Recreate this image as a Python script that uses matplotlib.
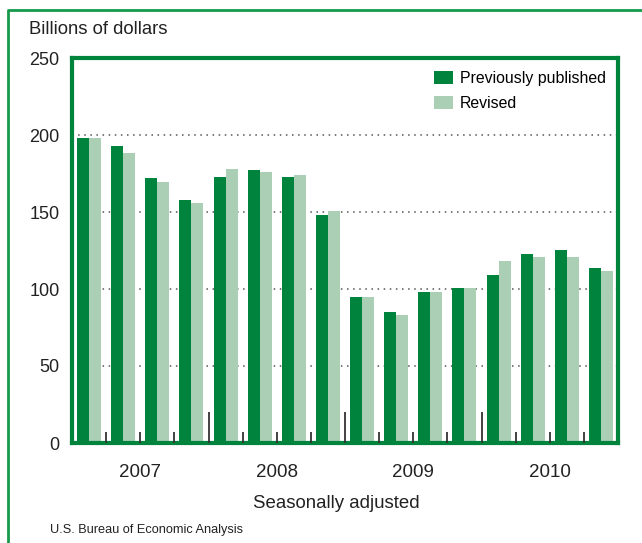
import numpy as np
import matplotlib
matplotlib.use('Agg')
import matplotlib.pyplot as plt
from matplotlib.patches import Patch
from matplotlib.lines import Line2D
from matplotlib import font_manager

plt.rcParams['font.family'] = ['Liberation Sans', 'DejaVu Sans']

# quarterly values, 2007Q1 .. 2010Q4
years = ['2007', '2008', '2009', '2010']
previously_published = [198, 193, 172, 158, 173, 177, 173, 148,
                        95, 85, 98, 100.5, 109, 122.5, 125.5, 113.5]
revised = [198, 188.5, 169.5, 156, 178, 176, 174, 150.5,
           95, 83, 98, 100.5, 118.5, 120.5, 120.5, 112]
yticks = [0, 50, 100, 150, 200, 250]

DARK = '#00843d'
LIGHT = '#abcfb4'
FRAME = '#16994a'
TXT = '#222222'

# condensed face for legend and source line, if it is there
names = {f.name for f in font_manager.fontManager.ttflist}
narrow = 'Liberation Sans Narrow' in names
NARROW = ['Liberation Sans Narrow', 'Liberation Sans'] if narrow else ['Liberation Sans']
leg_size = 13.5 if narrow else 11.4
src_size = 11 if narrow else 9.2

fig = plt.figure(figsize=(6.42, 5.43), dpi=100)
ax = fig.add_axes([72 / 642, 1 - 443 / 543, 546 / 642, 385 / 543])
px = 250 / 385  # data units per pixel on y

n = len(previously_published)
x = np.arange(n)
w = 0.35
ax.bar(x - w / 2, previously_published, w, color=DARK, zorder=3)
ax.bar(x + w / 2, revised, w, color=LIGHT, zorder=3)

ax.set_xlim(-0.5, n - 0.5)
ax.set_ylim(0, 250)
ax.set_yticks(yticks)
ax.set_yticklabels([str(t) for t in yticks], fontsize=13, color=TXT)
ax.tick_params(axis='y', length=0, pad=9)

for t in yticks[1:-1]:
    ax.axhline(t, color='#555555', lw=1.1, ls=(0, (1, 3)), zorder=1)

# quarter separators drawn up from the baseline
for i in range(1, n):
    h = 31 if i % 4 == 0 else 11
    ax.plot([i - 0.5, i - 0.5], [0, h * px], color='#333333', lw=1.3, zorder=6,
            solid_capstyle='butt', clip_on=False)

ax.set_xticks([1.5, 5.5, 9.5, 13.5])
ax.set_xticklabels(years, fontsize=13.5, color=TXT)
ax.tick_params(axis='x', length=0, pad=15)

for s in ax.spines.values():
    s.set_color(DARK)
    s.set_linewidth(3)
    s.set_zorder(5)

handles = [Patch(facecolor=DARK, edgecolor='none'), Patch(facecolor=LIGHT, edgecolor='none')]
fig.legend(handles, ['Previously published', 'Revised'], loc='upper left',
           bbox_to_anchor=(434 / 642, 1 - 71 / 543), frameon=False,
           prop={'family': NARROW, 'size': leg_size},
           borderpad=0, borderaxespad=0,
           handlelength=1.2, handleheight=0.9, handletextpad=0.45, labelspacing=0.6)

fig.text(29 / 642, 1 - 30 / 543, 'Billions of dollars', fontsize=13.3, color=TXT, va='center')
fig.text(336 / 642, 1 - 504 / 543, 'Seasonally adjusted', fontsize=13.4, color=TXT,
         ha='center', va='center')
fig.text(50 / 642, 1 - 530 / 543, 'U.S. Bureau of Economic Analysis', fontsize=src_size,
         family=NARROW, color=TXT, va='center')

# outer frame of the figure panel
fig.add_artist(Line2D([8 / 642, 8 / 642, 1.0], [0.0, 1 - 10 / 543, 1 - 10 / 543],
                      transform=fig.transFigure, color=FRAME, lw=2))

fig.savefig('out.png', dpi=100)
